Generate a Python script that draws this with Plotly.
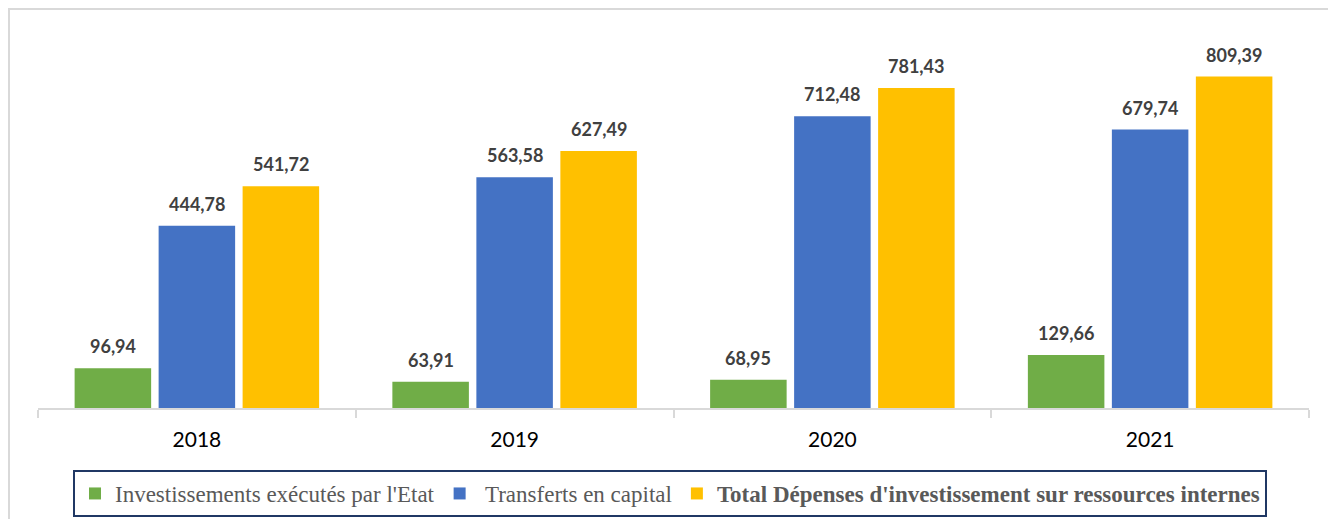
import plotly.graph_objects as go

years = ["2018", "2019", "2020", "2021"]
invest_etat = [96.94, 63.91, 68.95, 129.66]
transferts = [444.78, 563.58, 712.48, 679.74]
total = [541.72, 627.49, 781.43, 809.39]

series_names = [
    "Investissements exécutés par l'Etat",
    " Transferts en capital",
    "<b>Total Dépenses d'investissement sur ressources internes</b>",
]
series_values = [invest_etat, transferts, total]
colors = ["#70AD47", "#4472C4", "#FFC000"]

W, H = 1328, 519
ml, mr, mt, mb = 38, 19, 30, 111
plot_w = W - ml - mr
cat_w = plot_w / len(years)
bargap = 0.207
group_w = cat_w * (1 - bargap)
slot = group_w / 3

fig = go.Figure()
for name, vals, col in zip(series_names, series_values, colors):
    fig.add_trace(go.Bar(x=years, y=vals, name=name, marker=dict(color=col, line=dict(width=0))))

def fmt(v):
    return f"{v:.2f}".replace(".", ",")

annotations = []
for si, vals in enumerate(series_values):
    xs = (si - 1) * slot
    for ci, v in enumerate(vals):
        annotations.append(dict(
            x=ci, y=v, xref="x", yref="y", text=fmt(v), showarrow=False,
            xshift=xs, yshift=9, yanchor="bottom", xanchor="center",
            font=dict(family="Lato", size=18, color="#404040", weight="bold"),
        ))

y_top = 923
fig.update_layout(
    width=W, height=H,
    margin=dict(l=ml, r=mr, t=mt, b=mb, pad=0, autoexpand=False),
    paper_bgcolor="white", plot_bgcolor="white",
    barmode="group", bargap=bargap, bargroupgap=0.089,
    annotations=annotations,
    showlegend=True,
    legend=dict(
        orientation="h", x=(73 - ml) / plot_w, xanchor="left",
        y=-(470 - (H - mb)) / (H - mt - mb), yanchor="top",
        bordercolor="#203864", borderwidth=2,
        font=dict(family="Liberation Serif", size=23, color="#595959"),
        bgcolor="white", itemsizing="constant", traceorder="normal",
    ),
    xaxis=dict(
        type="category", range=[-0.5, len(years) - 0.5],
        showgrid=False, showline=True, linecolor="#D9D9D9", linewidth=1.5,
        ticks="outside", tickson="boundaries", ticklen=8, tickcolor="#D9D9D9", tickwidth=1.5,
        tickfont=dict(family="Lato", size=21, color="#000000"), tickangle=0,
        ticklabelstandoff=12,
    ),
    yaxis=dict(range=[0, y_top], visible=False, showgrid=False, zeroline=False),
    shapes=[dict(
        type="rect", xref="paper", yref="paper",
        x0=(9 - ml) / plot_w, x1=1.2,
        y0=((H - mb) - 9) / (H - mt - mb), y1=-1.0,
        line=dict(color="#D9D9D9", width=2), fillcolor="rgba(0,0,0,0)", layer="below",
    )],
)

fig.write_html("out.html", config={"displayModeBar": False},
               post_script="document.body.style.margin='0';")
